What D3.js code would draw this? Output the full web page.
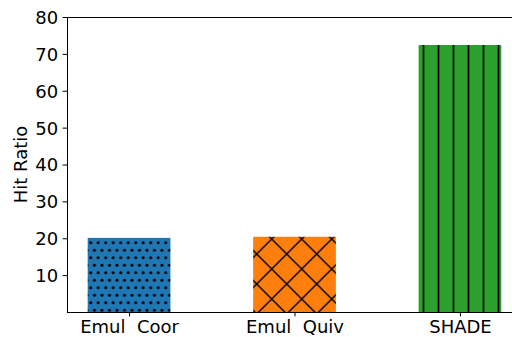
<!DOCTYPE html>
<html>
<head>
<meta charset="utf-8">
<script src="https://cdn.jsdelivr.net/npm/d3@7"></script>
<style>
  html, body { margin: 0; padding: 0; background: #fff; }
  svg { display: block; font-family: "DejaVu Sans", sans-serif; }
</style>
</head>
<body>
<svg id="chart" width="512" height="337"></svg>
<script>
// Hit ratio per scheme
const categories = ["Emul  Coor", "Emul  Quiv", "SHADE"];
const hitRatio = [20.1, 20.4, 72.4];
const barColors = ["#1f77b4", "#ff7f0e", "#2ca02c"];
const hatchKinds = ["dots", "cross", "vertical"];
const yTicks = [10, 20, 30, 40, 50, 60, 70, 80];
const yLabel = "Hit Ratio";

const svg = d3.select("#chart");
const plot = { left: 67, top: 17, bottom: 312, right: 522 };
const fontSize = 18;

const x = d3.scaleLinear().domain([-0.375, 2.375]).range([plot.left, plot.right]);
const y = d3.scaleLinear().domain([0, 80]).range([plot.bottom, plot.top]);
const barWidth = x(0.5) - x(0);

// Hatch patterns
const defs = svg.append("defs");
const hatchStroke = 1.4;

function dotsPattern(id, fill) {
  const p = defs.append("pattern").attr("id", id)
    .attr("patternUnits", "userSpaceOnUse")
    .attr("x", 88.825).attr("y", 238.95)
    .attr("width", 7.5).attr("height", 15);
  p.append("rect").attr("width", 7.5).attr("height", 15).attr("fill", fill);
  [[1.875, 3.75], [5.625, 11.25]].forEach(([cx, cy]) =>
    p.append("circle").attr("cx", cx).attr("cy", cy).attr("r", 1.5).attr("fill", "#000"));
}

function crossPattern(id, fill) {
  const s = 30;
  const p = defs.append("pattern").attr("id", id)
    .attr("patternUnits", "userSpaceOnUse")
    .attr("x", 1.7).attr("y", -1)
    .attr("width", s).attr("height", s);
  p.append("rect").attr("width", s).attr("height", s).attr("fill", fill);
  [-s, 0, s].forEach(k => {
    p.append("line").attr("x1", -5).attr("y1", -5 + k).attr("x2", s + 5).attr("y2", s + 5 + k)
      .attr("stroke", "#000").attr("stroke-width", hatchStroke);
    p.append("line").attr("x1", -5).attr("y1", s + 5 + k).attr("x2", s + 5).attr("y2", -5 + k)
      .attr("stroke", "#000").attr("stroke-width", hatchStroke);
  });
}

function verticalPattern(id, fill) {
  const p = defs.append("pattern").attr("id", id)
    .attr("patternUnits", "userSpaceOnUse")
    .attr("x", 416).attr("y", 0)
    .attr("width", 15).attr("height", 15);
  p.append("rect").attr("width", 15).attr("height", 15).attr("fill", fill);
  p.append("line").attr("x1", 7.5).attr("y1", -1).attr("x2", 7.5).attr("y2", 16)
    .attr("stroke", "#000").attr("stroke-width", 1.7);
}

const makers = { dots: dotsPattern, cross: crossPattern, vertical: verticalPattern };
hatchKinds.forEach((k, i) => makers[k]("hatch-" + i, barColors[i]));

// Bars
svg.append("g").selectAll("rect")
  .data(hitRatio)
  .join("rect")
  .attr("x", (d, i) => x(i) - barWidth / 2)
  .attr("y", d => y(d))
  .attr("width", barWidth)
  .attr("height", d => y(0) - y(d))
  .attr("fill", (d, i) => `url(#hatch-${i})`);

// Y axis
const yAxis = d3.axisLeft(y).tickValues(yTicks).tickSize(4.4).tickPadding(4.4);
const gy = svg.append("g").attr("transform", `translate(${plot.left},0)`).call(yAxis);
gy.select(".domain").remove();
gy.selectAll(".tick line").attr("stroke", "#000").attr("stroke-width", 1);
gy.selectAll(".tick text").attr("font-size", fontSize).attr("fill", "#000")
  .attr("font-family", "DejaVu Sans").attr("dy", "0.36em");

// X axis
const xAxis = d3.axisBottom(x).tickValues(d3.range(categories.length))
  .tickFormat(i => categories[i]).tickSize(4.4).tickPadding(4.4);
const gx = svg.append("g").attr("transform", `translate(0,${plot.bottom})`).call(xAxis);
gx.select(".domain").remove();
gx.selectAll(".tick line").attr("stroke", "#000").attr("stroke-width", 1);
gx.selectAll(".tick text").attr("font-size", fontSize).attr("fill", "#000")
  .attr("font-family", "DejaVu Sans").attr("dy", "0.7em")
  .style("white-space", "pre");

// Spines
const spines = svg.append("g").attr("stroke", "#000").attr("stroke-width", 1)
  .attr("shape-rendering", "crispEdges");
spines.append("line").attr("x1", plot.left).attr("x2", plot.left).attr("y1", plot.top).attr("y2", plot.bottom);
spines.append("line").attr("x1", plot.left).attr("x2", plot.right).attr("y1", plot.bottom).attr("y2", plot.bottom);
spines.append("line").attr("x1", plot.left).attr("x2", plot.right).attr("y1", plot.top).attr("y2", plot.top);
spines.append("line").attr("x1", plot.right).attr("x2", plot.right).attr("y1", plot.top).attr("y2", plot.bottom);

// Y label
svg.append("text")
  .attr("transform", `translate(20,${(plot.top + plot.bottom) / 2}) rotate(-90)`)
  .attr("text-anchor", "middle")
  .attr("dominant-baseline", "central")
  .attr("font-size", fontSize)
  .attr("fill", "#000")
  .text(yLabel);
</script>
</body>
</html>
